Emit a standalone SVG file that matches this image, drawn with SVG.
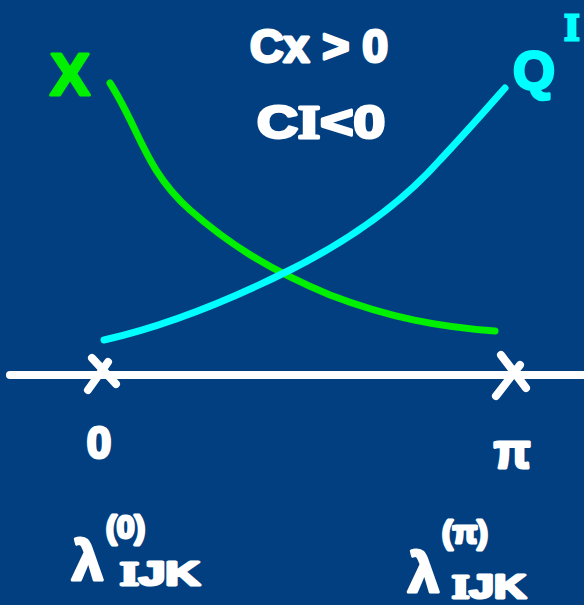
<svg xmlns="http://www.w3.org/2000/svg" width="584" height="605" viewBox="0 0 584 605">
<style>
.t{font-family:"Liberation Sans",Arial,sans-serif;font-weight:bold;stroke-linejoin:round;stroke-linecap:round}
.s{font-family:"Liberation Serif","Times New Roman",serif;font-weight:bold}
.w{fill:#ffffff;stroke:#ffffff;stroke-width:3}
.g{fill:#00f000;stroke:#00f000;stroke-width:3}
.c{fill:#00ffff;stroke:#00ffff;stroke-width:3}
.ln{fill:none;stroke-linecap:round;stroke-linejoin:round}
</style>
<rect width="584" height="605" fill="#023f80"/>
<g id="axis">
<line class="ln" x1="10" y1="375" x2="584" y2="375" stroke="#ffffff" stroke-width="8"/>
</g>
<g id="connectors">
<path class="ln" d="M110 83 C140 130 145 170 190 210 C230 245 270 270 330 295 C390 318 440 327 495 331" stroke="#00f000" stroke-width="7"/>
<path class="ln" d="M104 340 C170 325 230 300 290 270 C350 240 400 205 440 160 C470 128 490 105 505 88" stroke="#00ffff" stroke-width="7"/>
</g>
<g id="tick0">
<path class="ln" d="M92 358 L116 384 M108 362 L88 390" stroke="#ffffff" stroke-width="8"/>
<text class="t w" x="99" y="458" font-size="44" text-anchor="middle">0</text>
</g>
<g id="tickpi">
<path class="ln" d="M501 355 L526 388 M520 365 L496 396" stroke="#ffffff" stroke-width="8"/>
<text class="t w" x="512" y="468" font-size="48" text-anchor="middle">π</text>
</g>
<g id="labelX">
<text class="t g" x="70" y="95" font-size="60" text-anchor="middle">X</text>
</g>
<g id="labelQ">
<text class="t c" x="534" y="89" font-size="54" text-anchor="middle">Q</text>
<text class="s c" x="572" y="40" font-size="38" text-anchor="middle" stroke-width="2">I</text>
</g>
<g id="cond">
<text class="t w" x="250" y="62" font-size="46" textLength="138" lengthAdjust="spacingAndGlyphs">Cx &gt; 0</text>
<text class="t w" x="257" y="138" font-size="46" textLength="128" lengthAdjust="spacingAndGlyphs">C<tspan class="s">I</tspan>&lt;0</text>
</g>
<g id="lambda0">
<text class="t w" x="72" y="580" font-size="56">λ</text>
<text class="t w" x="106" y="538" font-size="32">(0)</text>
<text class="t w" x="120" y="585" font-size="34" textLength="80" lengthAdjust="spacingAndGlyphs"><tspan class="s">I</tspan>JK</text>
</g>
<g id="lambdapi">
<text class="t w" x="408" y="592" font-size="56">λ</text>
<text class="t w" x="442" y="543" font-size="32">(π)</text>
<text class="t w" x="452" y="598" font-size="34" textLength="74" lengthAdjust="spacingAndGlyphs"><tspan class="s">I</tspan>JK</text>
</g>
</svg>
